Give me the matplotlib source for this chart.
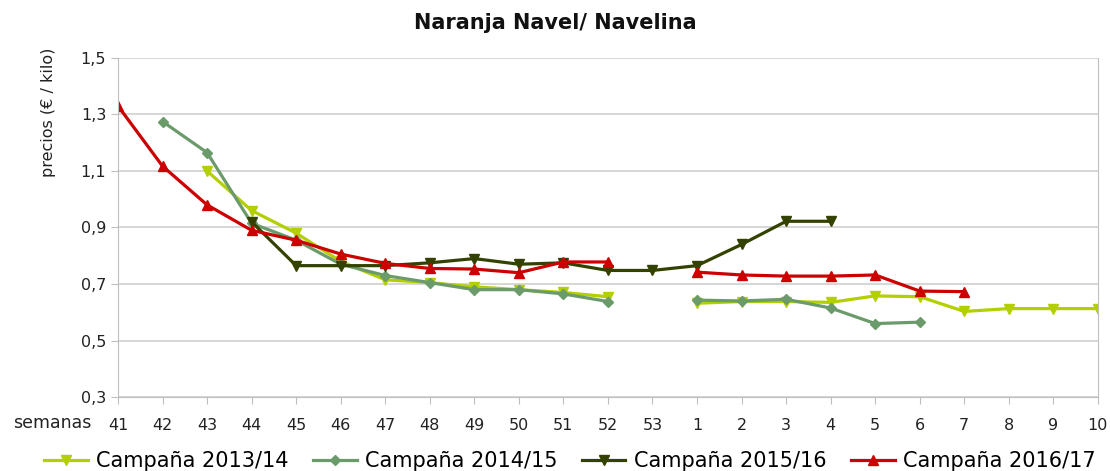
import numpy as np
import matplotlib
matplotlib.use('Agg')
import matplotlib.pyplot as plt

nan = np.nan

semanas = ['41', '42', '43', '44', '45', '46', '47', '48', '49', '50', '51', '52', '53',
           '1', '2', '3', '4', '5', '6', '7', '8', '9', '10']

c1314 = [nan, nan, 1.10, 0.96, 0.88, 0.78, 0.715, 0.705, 0.69, 0.68, 0.67, 0.655, nan,
         0.632, 0.638, 0.638, 0.635, 0.658, 0.655, 0.603, 0.613, 0.613, 0.613]
c1415 = [nan, 1.275, 1.165, 0.915, 0.855, 0.77, 0.73, 0.705, 0.68, 0.68, 0.665, 0.638, nan,
         0.643, 0.64, 0.646, 0.615, 0.56, 0.565, nan, nan, nan, nan]
c1516 = [nan, nan, nan, 0.92, 0.765, 0.765, 0.765, 0.775, 0.79, 0.77, 0.775, 0.748, 0.748,
         0.765, 0.84, 0.922, 0.922, nan, nan, nan, nan, nan, nan]
c1617 = [1.33, 1.117, 0.98, 0.89, 0.855, 0.806, 0.773, 0.755, 0.753, 0.74, 0.778, 0.778, nan,
         0.742, 0.732, 0.728, 0.728, 0.732, 0.675, 0.673, nan, nan, nan]

yticks = [0.3, 0.5, 0.7, 0.9, 1.1, 1.3, 1.5]

plt.rcParams['font.family'] = ['DejaVu Sans']
fig = plt.figure(figsize=(11.1, 4.71), dpi=100)
ax = fig.add_axes([0.1063, 0.157, 0.8828, 0.72])

x = np.arange(len(semanas))
ax.plot(x, c1314, color='#b3cf00', lw=2.3, marker='v', ms=7.5, label='Campaña 2013/14')
ax.plot(x, c1415, color='#6b9b6b', lw=2.3, marker='D', ms=5, label='Campaña 2014/15')
ax.plot(x, c1516, color='#344200', lw=2.3, marker='v', ms=7.5, label='Campaña 2015/16')
ax.plot(x, c1617, color='#cc0000', lw=2.3, marker='^', ms=7.5, label='Campaña 2016/17')

ax.set_xlim(0, len(semanas) - 1)
ax.set_ylim(0.3, 1.5)
ax.set_xticks(x)
ax.set_xticklabels(semanas)
ax.set_yticks(yticks)
ax.set_yticklabels([('%.1f' % v).replace('.', ',') for v in yticks])
ax.tick_params(axis='both', colors='#bfbfbf', labelcolor='#222222', labelsize=11.5, length=5)
ax.tick_params(axis='x', pad=10)
ax.grid(axis='y', color='#d0d0d0', lw=1.2)
ax.set_axisbelow(True)
for s in ['left', 'bottom', 'right']:
    ax.spines[s].set_color('#bfbfbf')
ax.spines['top'].set_visible(False)

fig.text(0.5, 0.952, 'Naranja Navel/ Navelina', ha='center', va='center',
         fontsize=15, fontweight='bold', color='#111111')
fig.text(0.044, 0.762, 'precios (€ / kilo)', rotation=90, ha='center', va='center',
         fontsize=11.5, color='#222222')
fig.text(0.047, 0.101, 'semanas', ha='center', va='center', fontsize=12.5, color='#222222')

fig.legend(loc='center', bbox_to_anchor=(0.5135, 0.021), ncol=4, frameon=False,
           fontsize=15, handlelength=2.07, columnspacing=1.2, handletextpad=0.4,
           borderpad=0, borderaxespad=0)

fig.savefig('out.png', dpi=100)
